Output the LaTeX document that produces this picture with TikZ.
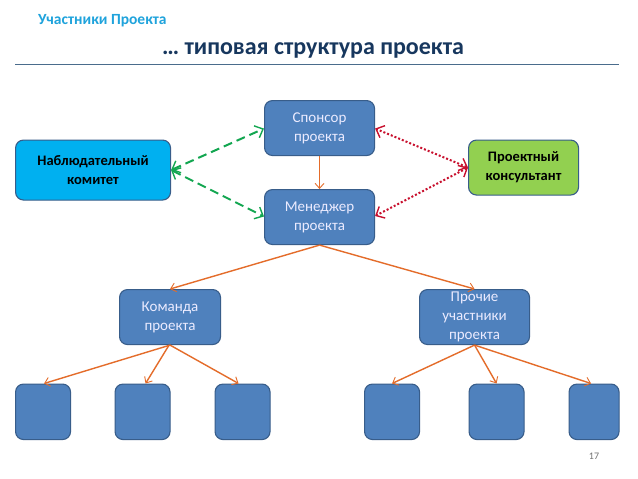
\documentclass[tikz,border=0pt]{standalone}
\usepackage{fontspec}
\setmainfont{Carlito}
\usetikzlibrary{arrows.meta}
\definecolor{boxblue}{HTML}{4F81BD}
\definecolor{boxline}{HTML}{385D8A}
\definecolor{cyanbox}{HTML}{00B0F0}
\definecolor{greenbox}{HTML}{92D050}
\definecolor{orangeline}{HTML}{E46C2A}
\definecolor{greenline}{HTML}{12A650}
\definecolor{redline}{HTML}{C8102E}
\definecolor{titlecol}{HTML}{17375E}
\definecolor{subcol}{HTML}{1FA3DC}
\definecolor{rulecol}{HTML}{4A6C8C}
\tikzset{
  x=1pt,y=-1pt,
  boxbase/.style={draw=boxline,line width=1.1pt,rounded corners=8pt,inner sep=0pt,align=center,font=\fontsize{15}{19}\selectfont,anchor=north west},
  bluebox/.style={boxbase,fill=boxblue,text=white!92!blue},
  darkbox/.style={boxbase,text=black,font=\fontsize{14.5}{19}\selectfont\bfseries},
  orangearrow/.style={draw=orangeline,line width=1.4pt,-{Straight Barb[length=5pt,width=9pt,line width=0.9pt]}},
  greenarrow/.style={draw=greenline,line width=2pt,dash pattern=on 9pt off 5pt,{Straight Barb[length=7pt,width=13pt,line width=1.4pt]}-{Straight Barb[length=7pt,width=13pt,line width=1.4pt]}},
  redarrow/.style={draw=redline,line width=2pt,dash pattern=on 2pt off 2pt,{Straight Barb[length=7pt,width=13pt,line width=1.4pt]}-{Straight Barb[length=7pt,width=13pt,line width=1.4pt]}},
}
\begin{document}
\begin{tikzpicture}
\useasboundingbox (0,0) rectangle (638,479);
\fill[white] (0,0) rectangle (638,479);
% titles
\node[anchor=west,text=subcol,font=\fontsize{15.5}{19}\selectfont\bfseries,inner sep=0pt] (sub) at (38,21) {Участники Проекта};
\node[anchor=center,text=titlecol,font=\fontsize{24}{28}\selectfont\bfseries,inner sep=0pt] (ttl) at (313,50) {… типовая структура проекта};
\coordinate (ruleL) at (15,64);
\coordinate (ruleR) at (619,64);
\draw[rulecol,line width=0.7pt] (ruleL) -- (ruleR);
% boxes
\node[bluebox,minimum width=110pt,minimum height=55pt] (spons) at (264,100) {Спонсор\\проекта};
\node[bluebox,minimum width=110pt,minimum height=55pt] (mgr) at (264,189) {Менеджер\\проекта};
\node[darkbox,fill=cyanbox,minimum width=155pt,minimum height=60pt] (watch) at (15,139.5) {Наблюдательный\\комитет};
\node[darkbox,fill=greenbox,minimum width=110pt,minimum height=55pt] (cons) at (468,139.5) {Проектный\\консультант};
\node[bluebox,minimum width=101pt,minimum height=55pt] (team) at (119,289) {Команда\\проекта};
\node[bluebox,minimum width=110pt,minimum height=55pt] (other) at (419,289) {Прочие\\участники\\проекта};
\node[bluebox,minimum width=55pt,minimum height=55.5pt] (la) at (15,383.5) {};
\node[bluebox,minimum width=55pt,minimum height=55.5pt] (lb) at (114.5,383.5) {};
\node[bluebox,minimum width=55pt,minimum height=55.5pt] (lc) at (214.5,383.5) {};
\node[bluebox,minimum width=55pt,minimum height=55.5pt] (ld) at (364,383.5) {};
\node[bluebox,minimum width=55pt,minimum height=55.5pt] (le) at (468.5,383.5) {};
\node[bluebox,minimum width=50pt,minimum height=55.5pt] (lf) at (568.5,383.5) {};
\node[text=black!55,font=\fontsize{10}{12}\selectfont,inner sep=0pt] (num) at (594,456) {17};
% connectors
\draw[orangearrow] (spons.south) -- (mgr.north);
\draw[orangearrow] (mgr.south) -- (team.north);
\draw[orangearrow] (mgr.south) -- (other.north);
\draw[orangearrow] (team.south) -- ([xshift=1pt]la.north);
\draw[orangearrow] ([xshift=-1pt]team.south) -- ([xshift=3pt]lb.north);
\draw[orangearrow] (team.south) -- ([xshift=-4pt]lc.north);
\draw[orangearrow] (other.south) -- (ld.north);
\draw[orangearrow] (other.south) -- (le.north);
\draw[orangearrow] (other.south) -- ([xshift=-3pt]lf.north);
\draw[greenarrow] (watch.east) -- ([yshift=-0.5pt]spons.west);
\draw[greenarrow] (watch.east) -- ([yshift=-0.5pt]mgr.west |- 0,216);
\draw[redarrow] (cons.west) -- ([yshift=-0.5pt]spons.east);
\draw[redarrow] (cons.west) -- ([yshift=0pt]mgr.east |- 0,216);
\end{tikzpicture}
\end{document}
